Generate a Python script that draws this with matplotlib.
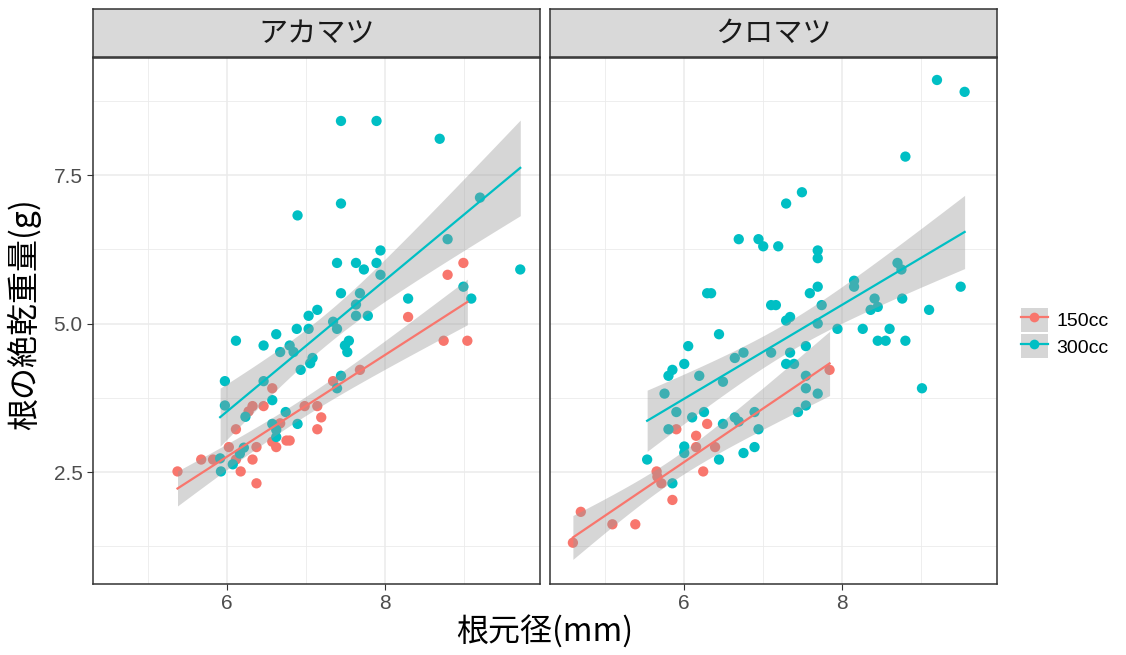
import numpy as np
import matplotlib
matplotlib.use("Agg")
from matplotlib import pyplot as plt
from matplotlib.lines import Line2D
from matplotlib.patches import Patch

plt.rcParams['font.family'] = ['Noto Sans CJK JP', 'DejaVu Sans']

# アカマツ 150cc
aka_150_x = [5.37, 5.67, 5.82, 6.02, 6.11, 6.11, 6.17, 6.27, 6.32, 6.32, 6.37, 6.37, 6.46, 6.57, 6.57,
             6.62, 6.67, 6.75, 6.79, 6.98, 7.14, 7.19, 7.14, 7.34, 7.68, 8.29, 8.74, 8.79, 8.99, 9.04]
aka_150_y = [2.51, 2.71, 2.71, 2.92, 2.71, 3.22, 2.51, 3.52, 3.61, 2.71, 2.92, 2.31, 3.61, 3.91, 3.01,
             2.92, 3.32, 3.03, 3.03, 3.61, 3.61, 3.42, 3.22, 4.03, 4.22, 5.11, 4.71, 5.82, 6.02, 4.71]
# アカマツ 300cc
aka_300_x = [5.92, 5.91, 6.07, 6.16, 6.21, 6.62, 6.62, 6.57, 6.89, 6.74, 6.23, 5.97, 6.57, 7.39, 7.44,
             5.97, 6.46, 6.93, 7.05, 7.08, 6.67, 6.84, 7.52, 7.49, 6.46, 6.79, 6.11, 7.54, 6.62, 6.88,
             7.03, 7.39, 7.34, 7.03, 7.63, 7.78, 7.14, 7.63, 7.44, 7.68, 8.29, 9.09, 8.99, 7.94, 7.73,
             9.71, 7.39, 7.63, 7.89, 7.94, 8.79, 6.89, 7.44, 9.20, 8.69, 7.44, 7.89]
aka_300_y = [2.51, 2.73, 2.63, 2.81, 2.91, 3.09, 3.21, 3.31, 3.31, 3.51, 3.43, 3.62, 3.71, 3.91, 4.12,
             4.03, 4.03, 4.22, 4.33, 4.42, 4.52, 4.52, 4.52, 4.63, 4.63, 4.63, 4.71, 4.71, 4.82, 4.91,
             4.91, 4.91, 5.03, 5.13, 5.13, 5.13, 5.23, 5.32, 5.51, 5.51, 5.42, 5.42, 5.62, 5.82, 5.91,
             5.91, 6.02, 6.02, 6.02, 6.23, 6.42, 6.82, 7.02, 7.12, 8.11, 8.41, 8.41]
# クロマツ 150cc
kuro_150_x = [4.59, 4.69, 5.09, 5.38, 5.65, 5.66, 5.71, 5.85, 5.90, 6.15, 6.15, 6.24, 6.29, 6.39, 7.84]
kuro_150_y = [1.31, 1.83, 1.62, 1.62, 2.51, 2.42, 2.31, 2.03, 3.22, 3.11, 2.92, 2.51, 3.31, 2.92, 4.22]
# クロマツ 300cc
kuro_300_x = [5.53, 5.85, 5.80, 5.75, 5.90, 5.80, 5.85, 6.00, 6.00, 6.00, 6.05, 6.10, 6.19, 6.25, 6.29,
              6.34, 6.44, 6.44, 6.49, 6.49, 6.64, 6.69, 6.64, 6.75, 6.75, 6.89, 6.89, 6.94, 6.69, 6.94,
              7.00, 7.19, 7.10, 7.10, 7.16, 7.29, 7.39, 7.34, 7.29, 7.34, 7.29, 7.49, 7.44, 7.54, 7.54,
              7.54, 7.54, 7.59, 7.69, 7.69, 7.69, 7.69, 7.69, 7.74, 7.94, 8.15, 8.15, 8.26, 8.36, 8.45,
              8.41, 8.45, 8.55, 8.60, 8.70, 8.75, 8.76, 8.80, 8.80, 9.01, 9.10, 9.20, 9.50, 9.55]
kuro_300_y = [2.71, 2.31, 3.22, 3.82, 3.51, 4.12, 4.22, 2.93, 2.82, 4.32, 4.62, 3.42, 4.12, 3.51, 5.51,
              5.51, 2.71, 4.82, 3.31, 4.02, 3.42, 3.35, 4.42, 4.51, 2.82, 2.92, 3.51, 3.22, 6.42, 6.42,
              6.30, 6.30, 4.51, 5.31, 5.31, 4.32, 4.32, 4.51, 5.05, 5.11, 7.02, 7.21, 3.51, 3.62, 3.91,
              4.12, 4.62, 5.51, 3.82, 5.00, 5.62, 6.10, 6.23, 5.31, 4.91, 5.62, 5.72, 4.91, 5.23, 5.28,
              5.42, 4.71, 4.71, 4.91, 6.02, 5.91, 5.42, 4.71, 7.81, 3.91, 5.23, 9.10, 5.62, 8.90]

facets = ['アカマツ', 'クロマツ']
groups = ['150cc', '300cc']
colors = ['#F8766D', '#00BFC4']
data = {
    'アカマツ': [(aka_150_x, aka_150_y), (aka_300_x, aka_300_y)],
    'クロマツ': [(kuro_150_x, kuro_150_y), (kuro_300_x, kuro_300_y)],
}
num_font = ['Liberation Sans', 'DejaVu Sans']


def t975(df):
    # expansion for the 97.5% t quantile (no scipy here)
    z = 1.959964
    return z + (z**3 + z) / (4 * df) + (5 * z**5 + 16 * z**3 + 3 * z) / (96 * df**2)


def smooth(ax, x, y, color):
    x = np.asarray(x)
    y = np.asarray(y)
    n = len(x)
    b, a = np.polyfit(x, y, 1)
    xs = np.linspace(x.min(), x.max(), 80)
    fit = a + b * xs
    resid = y - (a + b * x)
    s = np.sqrt(np.sum(resid**2) / (n - 2))
    se = s * np.sqrt(1 / n + (xs - x.mean())**2 / np.sum((x - x.mean())**2))
    t = t975(n - 2)
    ax.fill_between(xs, fit - t * se, fit + t * se, color='#999999', alpha=0.4, lw=0, zorder=3)
    ax.plot(xs, fit, color=color, lw=1.6, zorder=4)


fig = plt.figure(figsize=(11.26, 6.55), dpi=100)
lefts = [93 / 1126, 550 / 1126]
w = 447 / 1126
bottom = 71 / 655
h = 526 / 655

for k, name in enumerate(facets):
    ax = fig.add_axes([lefts[k], bottom, w, h])
    for (x, y), c in zip(data[name], colors):
        ax.scatter(x, y, s=55, color=c, edgecolors='none', zorder=2)
    for (x, y), c in zip(data[name], colors):
        smooth(ax, x, y, c)
    ax.set_xlim(4.3, 9.96)
    ax.set_ylim(0.615, 9.47)
    ax.set_xticks([6, 8])
    ax.set_xticks([5, 7, 9], minor=True)
    ax.set_yticks([2.5, 5.0, 7.5])
    ax.set_yticks([1.25, 3.75, 6.25, 8.75], minor=True)
    ax.grid(True, which='major', color='#EBEBEB', lw=1.1, zorder=0)
    ax.grid(True, which='minor', color='#EBEBEB', lw=0.6, zorder=0)
    ax.set_axisbelow(True)
    for sp in ax.spines.values():
        sp.set_color('#333333')
        sp.set_linewidth(1.1)
    ax.tick_params(which='minor', length=0)
    ax.tick_params(which='major', length=4, color='#333333', labelsize=15, labelcolor='#4D4D4D')
    ax.set_xticklabels(['6', '8'], family=num_font)
    if k == 0:
        ax.set_yticklabels(['2.5', '5.0', '7.5'], family=num_font)
    else:
        ax.tick_params(axis='y', which='major', labelleft=False, length=0)

    # strip
    sax = fig.add_axes([lefts[k], (655 - 57) / 655, w, 48 / 655])
    sax.set_facecolor('#D9D9D9')
    sax.set_xticks([])
    sax.set_yticks([])
    for sp in sax.spines.values():
        sp.set_color('#333333')
        sp.set_linewidth(1.1)
    sax.text(0.5, 0.48, name, ha='center', va='center', fontsize=21, color='#1A1A1A',
             transform=sax.transAxes)

fig.text((93 + 997) / 2 / 1126, 0.01, '根元径(mm)', ha='center', va='bottom', fontsize=23)
fig.text(0.006, bottom + h / 2 + 0.01, '根の絶乾重量(g)', ha='left', va='center', rotation=90, fontsize=23)

# legend
handles = [(Patch(facecolor='#D6D6D6', edgecolor='none'),
            Line2D([], [], color=c, lw=1.6, marker='o', markersize=7, markeredgecolor='none'))
           for c in colors]
fig.legend(handles, groups, loc='center left', bbox_to_anchor=(1003 / 1126, 1 - 333 / 655),
           frameon=False, prop={'family': num_font, 'size': 14}, handlelength=1.4,
           handleheight=1.5, labelspacing=0.15, handletextpad=0.45)

fig.savefig('out.png', dpi=100)
